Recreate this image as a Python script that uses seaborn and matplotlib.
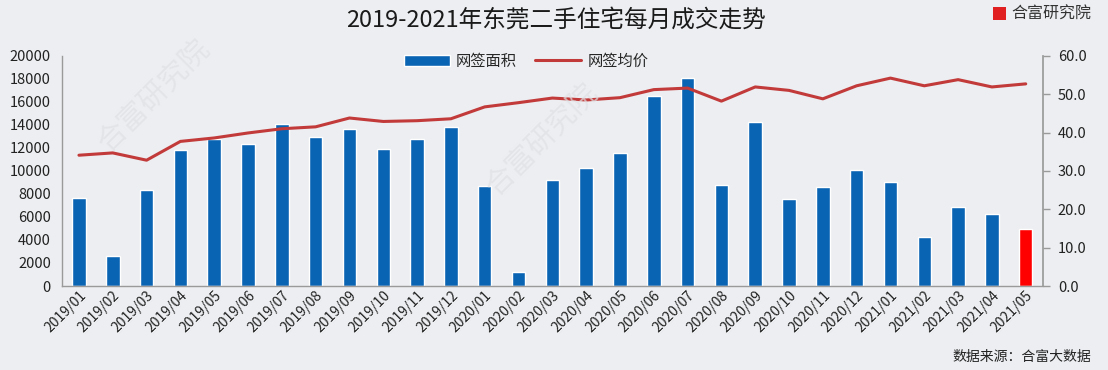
import numpy as np
import pandas as pd
import seaborn as sns
import matplotlib.pyplot as plt
from matplotlib.patches import Patch, Rectangle
from matplotlib.lines import Line2D

# 东莞二手住宅 网签数据 2019/01 - 2021/05
months = ["2019/01", "2019/02", "2019/03", "2019/04", "2019/05", "2019/06",
          "2019/07", "2019/08", "2019/09", "2019/10", "2019/11", "2019/12",
          "2020/01", "2020/02", "2020/03", "2020/04", "2020/05", "2020/06",
          "2020/07", "2020/08", "2020/09", "2020/10", "2020/11", "2020/12",
          "2021/01", "2021/02", "2021/03", "2021/04", "2021/05"]
area = [7650, 2650, 8350, 11800, 12800, 12300, 14100, 12950, 13650, 11950,
        12800, 13850, 8700, 1250, 9200, 10250, 11550, 16550, 18100, 8800,
        14250, 7550, 8600, 10050, 9000, 4250, 6850, 6250, 4950]
price = [34.1, 34.7, 32.8, 37.7, 38.6, 39.9, 41.0, 41.5, 43.8, 42.9,
         43.1, 43.6, 46.7, 47.8, 49.0, 48.5, 49.1, 51.2, 51.6, 48.2,
         51.9, 51.0, 48.8, 52.2, 54.2, 52.2, 53.8, 51.9, 52.7]

BLUE = "#0a64b4"
RED_BAR = "#ff0000"
RED_LINE = "#c23a3a"
BG = "#eceef1"

sns.set_theme(style="white")
plt.rcParams["font.family"] = ["Noto Sans CJK SC", "DejaVu Sans"]

df = pd.DataFrame({"month": months, "area": area, "price": price})
df["pos"] = np.arange(len(df))
colors = [BLUE] * (len(df) - 1) + [RED_BAR]

fig = plt.figure(figsize=(11.08, 3.70), dpi=100, facecolor=BG)
ax = fig.add_axes([0.056, 0.227, 0.885, 0.622])
ax.set_facecolor(BG)

sns.barplot(data=df, x="month", y="area", hue="month", palette=colors,
            legend=False, width=0.4, saturation=1, ax=ax)
ax.set_ylim(0, 20000)
ax.set_yticks(range(0, 20001, 2000))
ax.set_xlim(-0.5, len(df) - 0.5)
ax.set_xlabel("")
ax.set_ylabel("")
ax.tick_params(axis="y", length=0, labelsize=10.5, colors="#222222", pad=8)
ax.tick_params(axis="x", length=0, labelsize=10, colors="#222222", pad=2)
plt.setp(ax.get_xticklabels(), rotation=45, ha="right", rotation_mode="anchor")
for s in ["top", "right"]:
    ax.spines[s].set_visible(False)
for s in ["left", "bottom"]:
    ax.spines[s].set_color("#9a9a9a")
    ax.spines[s].set_linewidth(1.0)

ax2 = ax.twinx()
sns.lineplot(data=df, x="pos", y="price", color=RED_LINE, linewidth=2.2, ax=ax2)
ax2.set_ylim(0, 60)
ax2.set_yticks(range(0, 61, 10))
ax2.set_yticklabels([f"{v:.1f}" for v in range(0, 61, 10)])
ax2.set_ylabel("")
ax2.tick_params(axis="y", length=5, width=1, color="#9a9a9a", labelsize=10.5,
                labelcolor="#222222", pad=6)
for s in ["top", "left", "bottom"]:
    ax2.spines[s].set_visible(False)
ax2.spines["right"].set_color("#9a9a9a")

handles = [Patch(facecolor=BLUE, label="网签面积"),
           Line2D([0], [0], color=RED_LINE, lw=2.2, label="网签均价")]
fig.legend(handles=handles, loc="center", bbox_to_anchor=(0.475, 0.835), ncol=2,
           frameon=False, fontsize=11, handlelength=3.0, handleheight=0.7,
           columnspacing=1.2, handletextpad=0.4)

fig.text(0.502, 0.945, "2019-2021年东莞二手住宅每月成交走势", ha="center", va="center",
         fontsize=17, color="#1a1a1a")

# logo
fig.patches.append(Rectangle((0.896, 0.945), 0.0115, 0.035, transform=fig.transFigure,
                             facecolor="#e02020", edgecolor="none"))
fig.text(0.913, 0.962, "合富研究院", ha="left", va="center", fontsize=11.5,
         color="#333333")
fig.text(0.985, 0.035, "数据来源：合富大数据", ha="right", va="center",
         fontsize=10, color="#222222")

# faint watermarks
for x, y in [(0.14, 0.74), (0.49, 0.62)]:
    fig.text(x, y, "合富研究院", rotation=45, ha="center", va="center",
             fontsize=21, color="#dfe1e4", alpha=0.7, zorder=0)

fig.savefig("out.png", dpi=100, facecolor=BG)
